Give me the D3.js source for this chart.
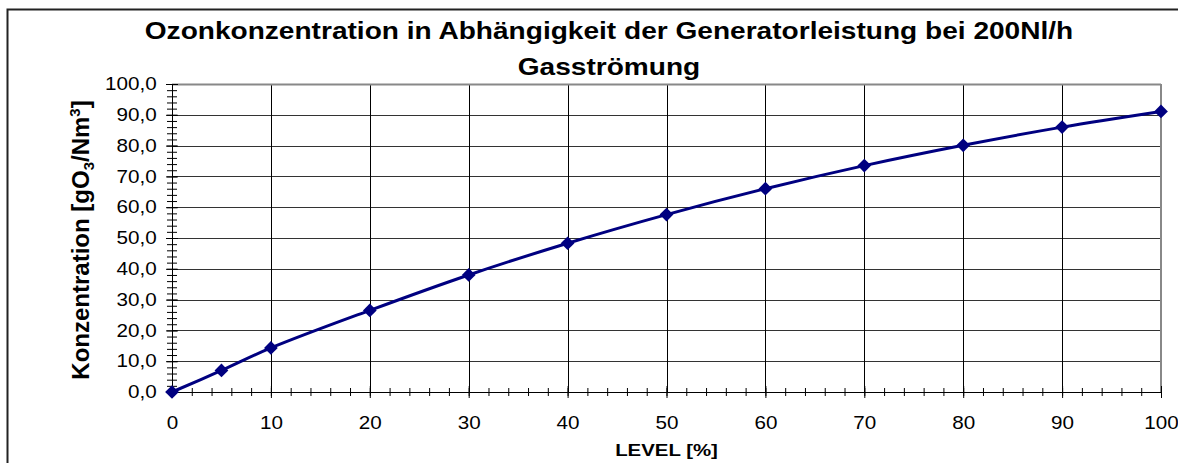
<!DOCTYPE html>
<html>
<head>
<meta charset="utf-8">
<script src="https://cdn.jsdelivr.net/npm/d3@7"></script>
<style>
  body { margin: 0; background: #fff; }
  text { font-family: "Liberation Sans", Arial, sans-serif; fill: #000; }
</style>
</head>
<body>
<div id="chart"></div>
<script>
// data
var levels = [0, 5, 10, 20, 30, 40, 50, 60, 70, 80, 90, 100];
var konz = [0.0, 7.0, 14.3, 26.5, 38.0, 48.3, 57.6, 66.0, 73.5, 80.1, 86.0, 91.1];
var xTicks = [0, 10, 20, 30, 40, 50, 60, 70, 80, 90, 100];
var yTicks = [0, 10, 20, 30, 40, 50, 60, 70, 80, 90, 100];

var W = 1178, H = 463;
var margin = { top: 84, right: 17, bottom: 71, left: 172 };
var width = W - margin.left - margin.right;
var height = H - margin.top - margin.bottom;

// the original text is drawn a bit wide
var stretch = "scale(1.18,1)";

var svgRoot = d3.select("#chart").append("svg")
    .attr("width", W)
    .attr("height", H);

// outer chart border
svgRoot.append("rect")
    .attr("x", 7.5).attr("y", 9.5)
    .attr("width", W).attr("height", H)
    .attr("fill", "none")
    .attr("stroke", "#222")
    .attr("stroke-width", 2);

// title
var title = svgRoot.append("text")
    .attr("transform", "translate(609,0) scale(1.17,1)")
    .attr("text-anchor", "middle")
    .style("font-size", "24px")
    .style("font-weight", "bold");
title.append("tspan").attr("x", 0).attr("y", 39)
    .text("Ozonkonzentration in Abhängigkeit der Generatorleistung bei 200Nl/h");
title.append("tspan").attr("x", 0).attr("y", 75)
    .text("Gasströmung");

var svg = svgRoot.append("g")
    .attr("transform", "translate(" + margin.left + "," + margin.top + ")");

var x = d3.scaleLinear().domain([0, 100]).range([0, width]);
var y = d3.scaleLinear().domain([0, 100]).range([height, 0]);

// horizontal grid
svg.append("g")
    .selectAll("line")
    .data(yTicks.filter(function (d) { return d > 0 && d < 100; }))
    .enter()
    .append("line")
    .attr("x1", 0).attr("x2", width)
    .attr("y1", function (d) { return Math.round(y(d)) + 0.5; })
    .attr("y2", function (d) { return Math.round(y(d)) + 0.5; })
    .attr("stroke", "#333");

// vertical grid
svg.append("g")
    .selectAll("line")
    .data(xTicks.filter(function (d) { return d > 0 && d < 100; }))
    .enter()
    .append("line")
    .attr("y1", 0).attr("y2", height)
    .attr("x1", function (d) { return Math.round(x(d)) + 0.5; })
    .attr("x2", function (d) { return Math.round(x(d)) + 0.5; })
    .attr("stroke", "#000");

// top and right border of the plot area
svg.append("line").attr("x1", 0).attr("x2", width).attr("y1", 0.5).attr("y2", 0.5)
    .attr("stroke", "#888").attr("stroke-width", 2);
svg.append("line").attr("x1", width).attr("x2", width).attr("y1", 0).attr("y2", height)
    .attr("stroke", "#888").attr("stroke-width", 2);

// minor ticks (every 2)
var minor = d3.range(0, 101, 2);

var yAxisMinor = svg.append("g")
    .call(d3.axisLeft(y).tickValues(minor).tickSize(4).tickFormat(""));
yAxisMinor.selectAll(".tick line").attr("x2", 5).attr("x1", -5);
yAxisMinor.select(".domain").remove();

var xAxisMinor = svg.append("g")
    .attr("transform", "translate(0," + height + ")")
    .call(d3.axisBottom(x).tickValues(minor).tickSize(4).tickFormat(""));
xAxisMinor.selectAll(".tick line").attr("y1", -4).attr("y2", 4);
xAxisMinor.select(".domain").remove();

// major axes
var fmt = function (d) { return d3.format(".1f")(d).replace(".", ","); };

var yAxis = svg.append("g")
    .call(d3.axisLeft(y).tickValues(yTicks).tickSize(6).tickPadding(7).tickFormat(fmt));
yAxis.selectAll(".tick line").attr("x1", 6);
yAxis.selectAll("text").style("font-size", "17.5px").attr("transform", stretch);
yAxis.select(".domain").attr("d", "M0.5,0V" + height);

var xAxis = svg.append("g")
    .attr("transform", "translate(0," + height + ")")
    .call(d3.axisBottom(x).tickValues(xTicks).tickSize(6).tickPadding(19).tickFormat(d3.format("d")));
xAxis.selectAll(".tick line").attr("y1", -6);
xAxis.selectAll("text").style("font-size", "17.5px").attr("transform", stretch);
xAxis.select(".domain").attr("d", "M0," + 0.5 + "H" + width);

svg.selectAll(".domain, .tick line").attr("stroke", "#000");

// axis titles
svg.append("text")
    .attr("transform", "translate(" + x(50) + "," + (height + 64) + ") scale(1.2,1)")
    .attr("text-anchor", "middle")
    .style("font-size", "17px")
    .style("font-weight", "bold")
    .text("LEVEL [%]");

var yt = svg.append("text")
    .attr("transform", "translate(-83," + (height / 2 + 2) + ") rotate(-90)")
    .attr("text-anchor", "middle")
    .style("font-size", "24px")
    .style("font-weight", "bold");
yt.append("tspan").text("Konzentration [gO");
yt.append("tspan").attr("dy", 5).style("font-size", "15px").text("3");
yt.append("tspan").attr("dy", -5).text("/Nm");
yt.append("tspan").attr("dy", -9).style("font-size", "15px").text("3");
yt.append("tspan").attr("dy", 9).text("]");

// series
var pts = levels.map(function (d, i) { return [d, konz[i]]; });

var line = d3.line()
    .x(function (d) { return x(d[0]); })
    .y(function (d) { return y(d[1]); })
    .curve(d3.curveCatmullRom);

svg.append("path")
    .datum(pts)
    .attr("d", line)
    .attr("fill", "none")
    .attr("stroke", "#000080")
    .attr("stroke-width", 3);

svg.selectAll(".pt")
    .data(pts)
    .enter()
    .append("path")
    .attr("class", "pt")
    .attr("transform", function (d) { return "translate(" + x(d[0]) + "," + y(d[1]) + ")"; })
    .attr("d", d3.symbol().type(d3.symbolDiamond2).size(120))
    .attr("fill", "#000080");
</script>
</body>
</html>
